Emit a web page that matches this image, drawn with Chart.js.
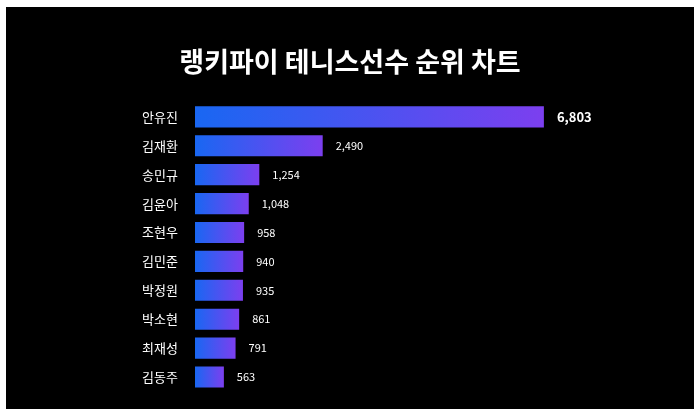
<!DOCTYPE html>
<html>
<head>
<meta charset="utf-8">
<script src="https://cdn.jsdelivr.net/npm/chart.js@4"></script>
<style>
  html, body { margin: 0; padding: 0; background: #fff; }
  #wrap { position: absolute; left: 6px; top: 7px; width: 688px; height: 402px; background: #000; }
</style>
</head>
<body>
<div id="wrap"><canvas id="c1" width="688" height="402"></canvas></div>
<script>
const names = ['안유진', '김재환', '송민규', '김윤아', '조현우', '김민준', '박정원', '박소현', '최재성', '김동주'];
const scores = [6803, 2490, 1254, 1048, 958, 940, 935, 861, 791, 563];
const chartTitle = '랭키파이 테니스선수 순위 차트';

const FONT = '"Noto Sans CJK KR", "Noto Sans", sans-serif';

// each bar gets its own blue -> purple gradient
function barGradient(context) {
    const chart = context.chart;
    const xs = chart.scales.x;
    if (!chart.chartArea || !xs || context.raw === undefined) return '#3b55ee';
    const x0 = xs.getPixelForValue(0);
    const x1 = xs.getPixelForValue(context.raw);
    if (!isFinite(x0) || !isFinite(x1) || x1 <= x0) return '#3b55ee';
    const g = chart.ctx.createLinearGradient(x0, 0, x1, 0);
    g.addColorStop(0, '#1967f2');
    g.addColorStop(1, '#7c3fef');
    return g;
}

const valueLabels = {
    id: 'valueLabels',
    afterDatasetsDraw(chart) {
        const ctx = chart.ctx;
        const meta = chart.getDatasetMeta(0);
        ctx.save();
        ctx.fillStyle = '#fff';
        ctx.textBaseline = 'middle';
        ctx.textAlign = 'left';
        meta.data.forEach(function (bar, i) {
            ctx.font = i === 0 ? 'bold 13px ' + FONT : '11px ' + FONT;
            ctx.fillText(scores[i].toLocaleString('en-US'), bar.x + 13, bar.y);
        });
        ctx.restore();
    }
};

new Chart(document.getElementById('c1'), {
    type: 'bar',
    data: {
        labels: names,
        datasets: [{
            data: scores,
            backgroundColor: barGradient,
            borderWidth: 0,
            barPercentage: 0.73,
            categoryPercentage: 1
        }]
    },
    plugins: [valueLabels],
    options: {
        indexAxis: 'y',
        responsive: false,
        animation: false,
        layout: { padding: { left: 0, right: 0, top: 0, bottom: 17.5 } },
        plugins: {
            legend: { display: false },
            tooltip: { enabled: false },
            title: {
                display: true,
                text: chartTitle,
                color: '#fff',
                font: { family: FONT, size: 27, weight: 'bold' },
                padding: { top: 39, bottom: 24 }
            }
        },
        scales: {
            x: {
                display: false,
                min: 0,
                max: 9730
            },
            y: {
                afterFit: function (scale) {
                    scale.width = 189;
                    // tick padding should not reserve space above/below the bars
                    scale.paddingTop = 0;
                    scale.paddingBottom = 0;
                },
                grid: { display: false, drawTicks: false },
                border: { display: false },
                ticks: {
                    color: '#fff',
                    padding: 17,
                    font: { family: FONT, size: 13 }
                }
            }
        }
    }
});
</script>
</body>
</html>
